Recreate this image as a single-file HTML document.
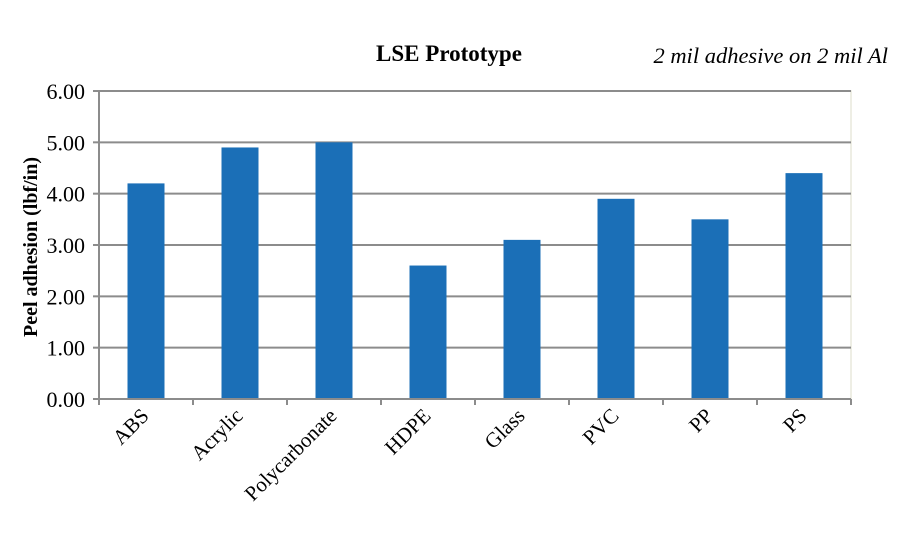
<!DOCTYPE html>
<html><head><meta charset="utf-8"><style>
body{margin:0;background:#fff;}
svg{display:block;font-family:"Liberation Serif",serif;}
</style></head><body>
<svg width="900" height="550">
<text x="449" y="61" text-anchor="middle" font-size="23" font-weight="bold">LSE Prototype</text>
<text x="888" y="63" text-anchor="end" font-size="22.5" font-style="italic">2 mil adhesive on 2 mil Al</text>
<rect x="99" y="91" width="752" height="308" fill="#fff" stroke="#e8e8dc" stroke-width="1.5"/>
<g id="grid"></g><g id="bars"></g><g id="axes"></g>
<text transform="translate(37,247) rotate(-90)" text-anchor="middle" font-size="20" font-weight="bold">Peel adhesion (lbf/in)</text>
</svg>
<script>
const categories=["ABS","Acrylic","Polycarbonate","HDPE","Glass","PVC","PP","PS"];
const values=[4.2,4.9,5.0,2.6,3.1,3.9,3.5,4.4];
const ticks=[0,1,2,3,4,5,6];
const tickLabels=["0.00","1.00","2.00","3.00","4.00","5.00","6.00"];
const NS="http://www.w3.org/2000/svg";
const x0=99,x1=851,yTop=91,yBot=399,yMax=6;
const band=(x1-x0)/categories.length;
const y=v=>yBot-(v/yMax)*(yBot-yTop);
const xc=i=>x0+band*(i+0.5);
function mk(t,a,p){const e=document.createElementNS(NS,t);for(const k in a)e.setAttribute(k,a[k]);document.getElementById(p).appendChild(e);return e;}
ticks.forEach((t,i)=>{
 if(t>0){const g=mk('line',{x1:x0,x2:x1,y1:y(t),y2:y(t),stroke:'#8c8c8c','stroke-width':2},'grid');
 
 }
 const tk=mk('line',{x1:x0-6,x2:x0,y1:y(t),y2:y(t),stroke:'#8c8c8c','stroke-width':2},'axes');
 
 
 const l=mk('text',{x:x0-14,y:y(t)+8,'text-anchor':'end','font-size':22},'axes');
 l.textContent=tickLabels[i];
 
 
});
values.forEach((v,i)=>{
 const b=mk('rect',{x:xc(i)-18.5,y:y(v),width:37,height:yBot-y(v),fill:'#1b6fb7'},'bars');
 
 
});
const ax=mk('line',{x1:x0,x2:x0,y1:yTop,y2:yBot,stroke:'#8c8c8c','stroke-width':2},'axes');


const bx=mk('line',{x1:x0,x2:x1,y1:yBot,y2:yBot,stroke:'#8c8c8c','stroke-width':2},'axes');


for(let i=0;i<=categories.length;i++){
 const t=mk('line',{x1:x0+band*i,x2:x0+band*i,y1:yBot,y2:yBot+6,stroke:'#8c8c8c','stroke-width':2},'axes');
 
 
}
categories.forEach((c,i)=>{
 const l=mk('text',{transform:`translate(${xc(i)+4},${yBot+18}) rotate(-45)`,'text-anchor':'end','font-size':21},'axes');
 l.textContent=c;
 
 
});
</script>
</body></html>
